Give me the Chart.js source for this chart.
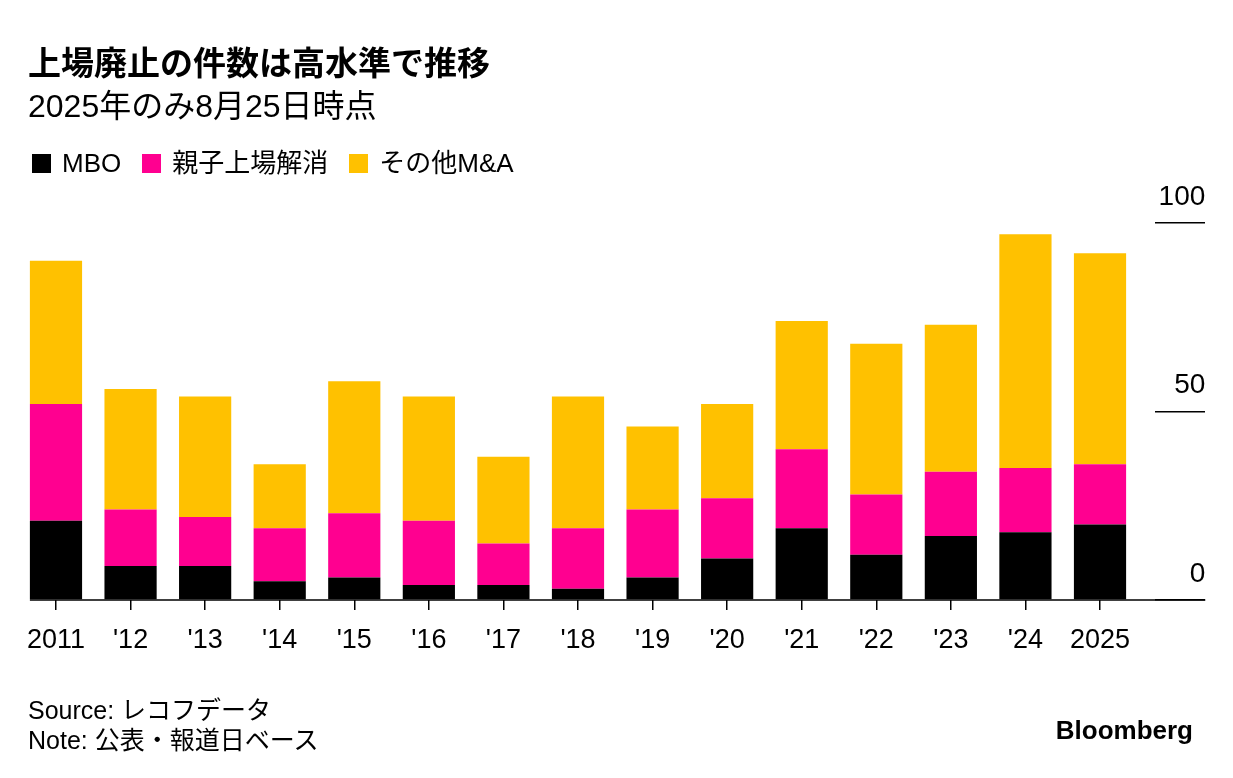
<!DOCTYPE html>
<html lang="ja">
<head>
<meta charset="utf-8">
<title>上場廃止の件数は高水準で推移</title>
<script src="https://cdn.jsdelivr.net/npm/chart.js@4.4.1/dist/chart.umd.min.js"></script>
<style>
  body { margin: 0; background: #fff; color: #000; font-family: "Liberation Sans", "Noto Sans CJK JP", sans-serif; }
  #wrap { position: relative; width: 1233px; height: 778px; overflow: hidden; }
  canvas { position: absolute; left: 0; top: 0; }
  .txt { position: absolute; left: 28px; white-space: nowrap; }
  #title { top: 44px; font-size: 33px; line-height: 40px; font-weight: bold; }
  #subtitle { top: 86px; font-size: 32px; line-height: 40px; }
  #legend { top: 148px; left: 32px; display: flex; gap: 21px; font-size: 26px; line-height: 30px; }
  #legend .item { display: flex; align-items: center; }
  #legend i { display: inline-block; width: 19px; height: 19px; margin-right: 11px; }
  #source { top: 695px; font-size: 25px; line-height: 30px; }
  #note { top: 725px; font-size: 25px; line-height: 30px; }
  #logo { position: absolute; right: 40px; top: 715px; font-size: 26px; line-height: 30px; font-weight: bold; }
</style>
</head>
<body>
<div id="wrap">
  <canvas id="chart" width="1233" height="778"></canvas>
  <div class="txt" id="title">上場廃止の件数は高水準で推移</div>
  <div class="txt" id="subtitle">2025年のみ8月25日時点</div>
  <div class="txt" id="legend"></div>
  <div class="txt" id="source">Source: レコフデータ</div>
  <div class="txt" id="note">Note: 公表・報道日ベース</div>
  <div id="logo">Bloomberg</div>
</div>
<script>
// 年
const years = ['2011', "'12", "'13", "'14", "'15", "'16", "'17", "'18", "'19", "'20", "'21", "'22", "'23", "'24", '2025'];

// 件数 (チャートから読み取り)
const mbo     = [21, 9, 9, 5, 6, 4, 4, 3, 6, 11, 19, 12, 17, 18, 20];
const oyako   = [31, 15, 13, 14, 17, 17, 11, 16, 18, 16, 21, 16, 17, 17, 16];
const otherMA = [38, 32, 32, 17, 35, 33, 23, 35, 22, 25, 34, 40, 39, 62, 56];

const seriesNames  = ['MBO', '親子上場解消', 'その他M&A'];
const seriesColors = ['#000000', '#ff0090', '#ffc100'];
const yMax = 100;
const yStep = 50;

// legend (html)
const legend = document.getElementById('legend');
seriesNames.forEach(function (name, i) {
  const item = document.createElement('span');
  item.className = 'item';
  item.innerHTML = '<i style="background:' + seriesColors[i] + '"></i>' + name;
  legend.appendChild(item);
});

// zero line from first bar edge to the end of the right ticks
const baseline = {
  id: 'baseline',
  afterDatasetsDraw(chart) {
    const ctx = chart.ctx;
    const y = chart.scales.y;
    const bar = chart.getDatasetMeta(0).data[0];
    const y0 = y.getPixelForValue(0);
    ctx.save();
    ctx.strokeStyle = '#000';
    ctx.lineWidth = 1.5;
    ctx.beginPath();
    ctx.moveTo(bar.x - bar.width / 2, y0);
    ctx.lineTo(y.right, y0);
    ctx.stroke();
    ctx.restore();
  }
};

Chart.defaults.font.family = '"Liberation Sans", "Noto Sans CJK JP", sans-serif';
Chart.defaults.color = '#000';

const ctx = document.getElementById('chart');
new Chart(ctx, {
  type: 'bar',
  data: {
    labels: years,
    datasets: [
      { label: seriesNames[0], data: mbo, backgroundColor: seriesColors[0] },
      { label: seriesNames[1], data: oyako, backgroundColor: seriesColors[1] },
      { label: seriesNames[2], data: otherMA, backgroundColor: seriesColors[2] }
    ]
  },
  options: {
    responsive: false,
    animation: false,
    barPercentage: 0.7,
    categoryPercentage: 1.0,
    layout: { padding: { left: 18.7, right: 27.7, top: 223, bottom: 128 } },
    plugins: {
      legend: { display: false },
      tooltip: { enabled: false }
    },
    scales: {
      x: {
        stacked: true,
        afterFit: function (s) { s.height = 50; },
        border: { display: false },
        grid: { drawOnChartArea: false, offset: false, tickLength: 10, color: '#000', lineWidth: 1.5 },
        ticks: { font: { size: 27 }, padding: 14, maxRotation: 0, autoSkip: false }
      },
      y: {
        stacked: true,
        position: 'right',
        min: 0,
        max: yMax,
        afterFit: function (s) { s.width = 68; },
        border: { display: false },
        grid: { drawOnChartArea: false, tickLength: 68, tickBorderDash: [0, 18, 50, 100], color: '#000', lineWidth: 1.5 },
        ticks: { stepSize: yStep, font: { size: 28 }, crossAlign: 'far', padding: -47, labelOffset: -26 }
      }
    }
  },
  plugins: [baseline]
});
</script>
</body>
</html>
